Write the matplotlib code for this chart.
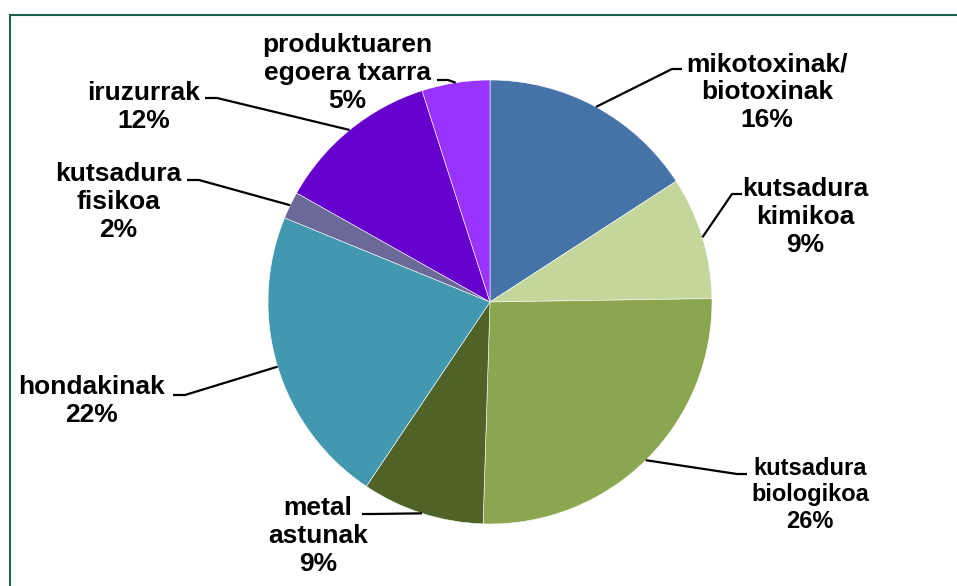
import numpy as np
import matplotlib
matplotlib.use("Agg")
import matplotlib.pyplot as plt
from matplotlib.lines import Line2D

# data (percent)
names = ["mikotoxinak/\nbiotoxinak", "kutsadura\nkimikoa", "kutsadura\nbiologikoa",
         "metal\nastunak", "hondakinak", "kutsadura\nfisikoa", "iruzurrak",
         "produktuaren\negoera txarra"]
values = [16, 9, 26, 9, 22, 2, 12, 5]
colors = ["#4572A7", "#C3D69B", "#8AA64F", "#4F6228", "#4198AF", "#6B6998",
          "#6600CC", "#9933FF"]

# label layout in pixels: text centre, elbow, end of leader, font size
txt_pos = [(767, 92), (805, 217), (810, 495), (318, 536), (92, 401),
           (118, 202), (144, 107), (347, 73)]
elbows = [(672, 69), (732, 194), (737, 474), (372, 514), (185, 395),
          (199, 180), (217, 98), (448, 80)]
ends = [(682, 69), (742, 194), (747, 474), (362, 514), (173, 395),
        (187, 180), (205, 98), (437, 80)]
fsizes = [19, 19, 17, 19, 19, 19, 19, 19]

W, H = 957, 586
cx, cy, R = 490, 302, 222

plt.rcParams['font.family'] = ['Liberation Sans', 'DejaVu Sans']

fig = plt.figure(figsize=(W / 100, H / 100), dpi=100)
ax = fig.add_axes([(cx - R) / W, (H - cy - R) / H, 2 * R / W, 2 * R / H])


def px(p):
    return ((p[0] - cx) / R, (cy - p[1]) / R)


wedges, _ = ax.pie(values, colors=colors, startangle=90, counterclock=False,
                   radius=1.0, wedgeprops=dict(edgecolor="white", linewidth=0.4))
ax.set_xlim(-1, 1)
ax.set_ylim(-1, 1)
ax.set_aspect("equal")
ax.axis("off")

for i, w in enumerate(wedges):
    pct = values[i] / sum(values) * 100
    mid = np.deg2rad((w.theta1 + w.theta2) / 2)
    x0, y0 = np.cos(mid), np.sin(mid)
    ex, ey = px(elbows[i])
    nx, ny = px(ends[i])
    ax.plot([x0, ex, nx], [y0, ey, ny], color="black", lw=1.6, clip_on=False,
            solid_capstyle="butt")
    tx, ty = px(txt_pos[i])
    ax.text(tx, ty, "%s\n%d%%" % (names[i], round(pct)), ha="center", va="center",
            fontsize=fsizes[i], fontweight="bold", multialignment="center",
            clip_on=False)

# chart frame (only the top and left edges are inside the picture)
fx, fy = 10 / W, 1 - 15 / H
fig.add_artist(Line2D([fx, fx], [fy, 0], transform=fig.transFigure,
                      color="#1F6050", lw=1.5))
fig.add_artist(Line2D([fx, 1], [fy, fy], transform=fig.transFigure,
                      color="#1F6050", lw=1.5))

fig.savefig("out.png", dpi=100)
